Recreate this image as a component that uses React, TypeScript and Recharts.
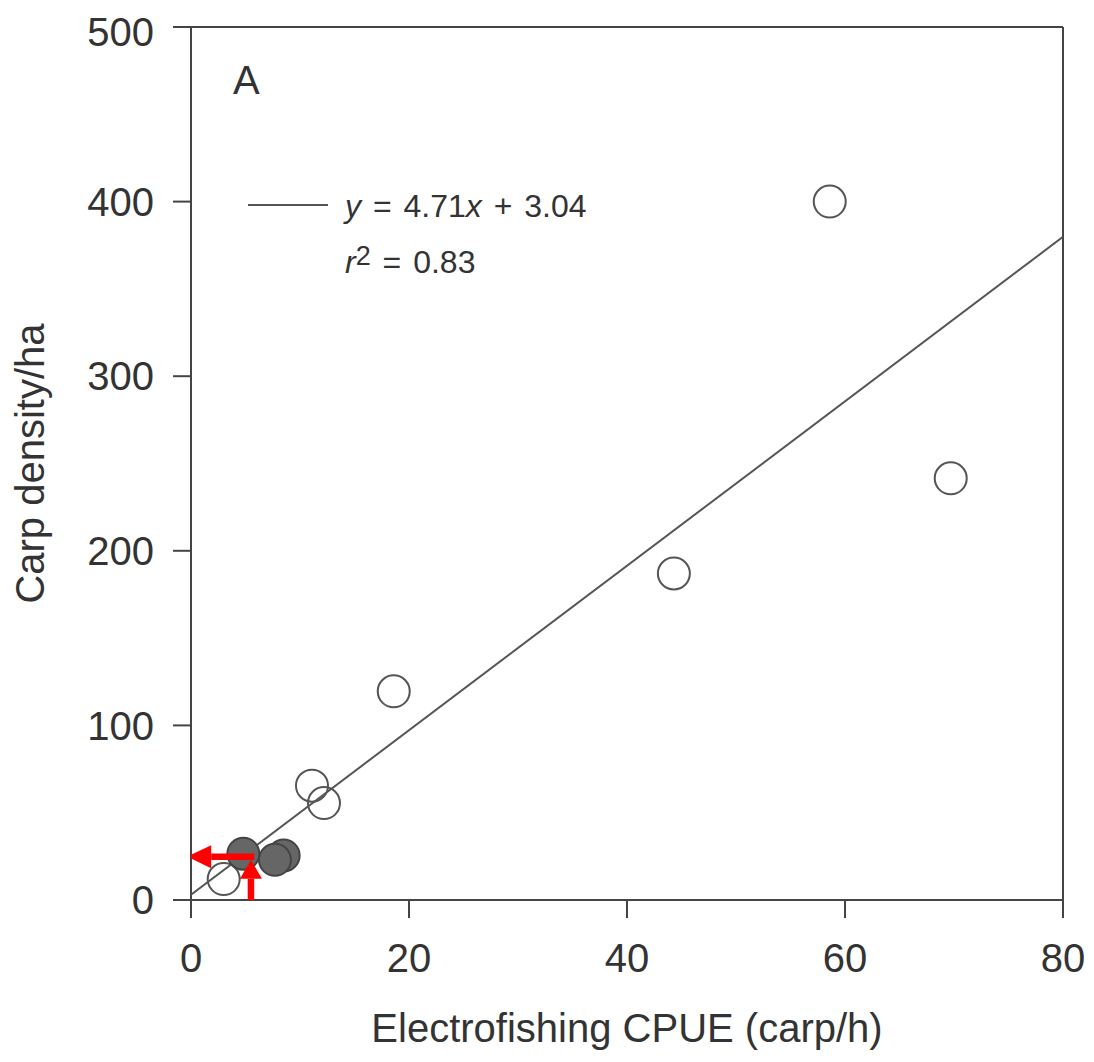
import React from 'react';
import { ScatterChart, Scatter, XAxis, YAxis, ReferenceLine } from 'recharts';

// open circles
const OPEN_X = [58.6, 69.7, 44.3, 18.6, 11.1, 12.2, 3.0];
const OPEN_Y = [400, 241.5, 187, 119.5, 65.5, 55.5, 12];
// filled (dark) circles
const FILLED_X = [8.5, 4.8, 7.7];
const FILLED_Y = [25.5, 26.5, 23];
// fitted line end points
const FIT_X = [0, 80];
const FIT_Y = [3.04, 379.8];
const X_TICKS = [0, 20, 40, 60, 80];
const Y_TICKS = [0, 100, 200, 300, 400, 500];
// red arrows: up from the x axis, then left to the y axis
const ARROW_UP_X = [5.5, 5.5];
const ARROW_UP_Y = [0, 23];
const ARROW_LEFT_X = [5.8, -0.35];
const ARROW_LEFT_Y = [24.8, 24.8];

const openData = OPEN_X.map((x, i) => ({ x, y: OPEN_Y[i] }));
const filledData = FILLED_X.map((x, i) => ({ x, y: FILLED_Y[i] }));
const fitData = FIT_X.map((x, i) => ({ x, y: FIT_Y[i] }));
const arrowUpData = ARROW_UP_X.map((x, i) => ({ x, y: ARROW_UP_Y[i] }));
const arrowLeftData = ARROW_LEFT_X.map((x, i) => ({ x, y: ARROW_LEFT_Y[i] }));

const FONT = '"Liberation Sans", Arial, Helvetica, sans-serif';
const TEXT = '#333';
const AXIS = '#444';

// draws a thick red arrow from the first to the last scatter point
function arrowLine(headLen: number, half: number) {
  return (props: any) => {
    const pts = props.points || [];
    if (pts.length < 2) return <g />;
    const x1 = pts[0].x;
    const y1 = pts[0].y;
    const x2 = pts[pts.length - 1].x;
    const y2 = pts[pts.length - 1].y;
    const dx = x2 - x1;
    const dy = y2 - y1;
    const len = Math.hypot(dx, dy) || 1;
    const ux = dx / len;
    const uy = dy / len;
    const bx = x2 - ux * headLen;
    const by = y2 - uy * headLen;
    const px = -uy;
    const py = ux;
    return (
      <g>
        <line x1={x1} y1={y1} x2={bx} y2={by} stroke="#ff0000" strokeWidth={6.5} />
        <polygon
          points={`${x2},${y2} ${bx + px * half},${by + py * half} ${bx - px * half},${by - py * half}`}
          fill="#ff0000"
        />
      </g>
    );
  };
}

export default function App() {
  const tickStyle = { fontSize: 40, fill: TEXT, fontFamily: FONT };
  return (
    <div style={{ position: 'relative', width: 1080, height: 1050, fontFamily: FONT, color: TEXT }}>
      <ScatterChart width={1080} height={1050} margin={{ top: 19, right: 25, bottom: 0, left: 0 }}>
        <XAxis
          type="number"
          dataKey="x"
          domain={[0, 80]}
          allowDataOverflow
          ticks={X_TICKS}
          height={158}
          tickSize={18}
          tickMargin={26}
          tick={tickStyle}
          axisLine={{ stroke: AXIS, strokeWidth: 2 }}
          tickLine={{ stroke: AXIS, strokeWidth: 2 }}
          label={{
            value: 'Electrofishing CPUE (carp/h)',
            position: 'insideBottom',
            offset: 16,
            style: { fontSize: 40, fill: TEXT, fontFamily: FONT },
          }}
        />
        <YAxis
          type="number"
          dataKey="y"
          domain={[0, 500]}
          ticks={Y_TICKS}
          width={183}
          tickSize={18}
          tickMargin={19}
          tick={tickStyle}
          axisLine={{ stroke: AXIS, strokeWidth: 2 }}
          tickLine={{ stroke: AXIS, strokeWidth: 2 }}
          label={{
            value: 'Carp density/ha',
            angle: -90,
            position: 'insideLeft',
            offset: 22,
            style: { fontSize: 40, fill: TEXT, fontFamily: FONT, textAnchor: 'middle' },
          }}
        />
        <ReferenceLine y={500} stroke={AXIS} strokeWidth={2} />
        <ReferenceLine x={80} stroke={AXIS} strokeWidth={2} />

        <Scatter
          data={fitData}
          line={{ stroke: '#555', strokeWidth: 2 }}
          shape={() => <g />}
          isAnimationActive={false}
        />
        <Scatter
          data={openData}
          shape={(p: any) => <circle cx={p.cx} cy={p.cy} r={16} fill="none" stroke="#555" strokeWidth={2} />}
          isAnimationActive={false}
        />
        <Scatter
          data={filledData}
          shape={(p: any) => <circle cx={p.cx} cy={p.cy} r={16} fill="#666" stroke="#444" strokeWidth={2} />}
          isAnimationActive={false}
        />

        {/* red arrows on top */}
        <Scatter
          data={arrowUpData}
          line={arrowLine(19, 11)}
          shape={() => <g />}
          isAnimationActive={false}
        />
        <Scatter
          data={arrowLeftData}
          line={arrowLine(24, 11.5)}
          shape={() => <g />}
          isAnimationActive={false}
        />
      </ScatterChart>

      {/* panel letter */}
      <div style={{ position: 'absolute', left: 225, top: 52, fontSize: 40, lineHeight: 1 }}>A</div>

      {/* legend / equation */}
      <div style={{ position: 'absolute', left: 240, top: 196, width: 80, height: 2, background: '#555' }} />
      <div
        style={{
          position: 'absolute', left: 337, top: 170, fontSize: 32, lineHeight: '56px',
          whiteSpace: 'nowrap', wordSpacing: 3,
        }}
      >
        <div><i>y</i> = 4.71<i>x</i> + 3.04</div>
        <div>
          <i>r</i>
          <span style={{ fontSize: 27, position: 'relative', top: -8 }}>2</span> = 0.83
        </div>
      </div>
    </div>
  );
}
